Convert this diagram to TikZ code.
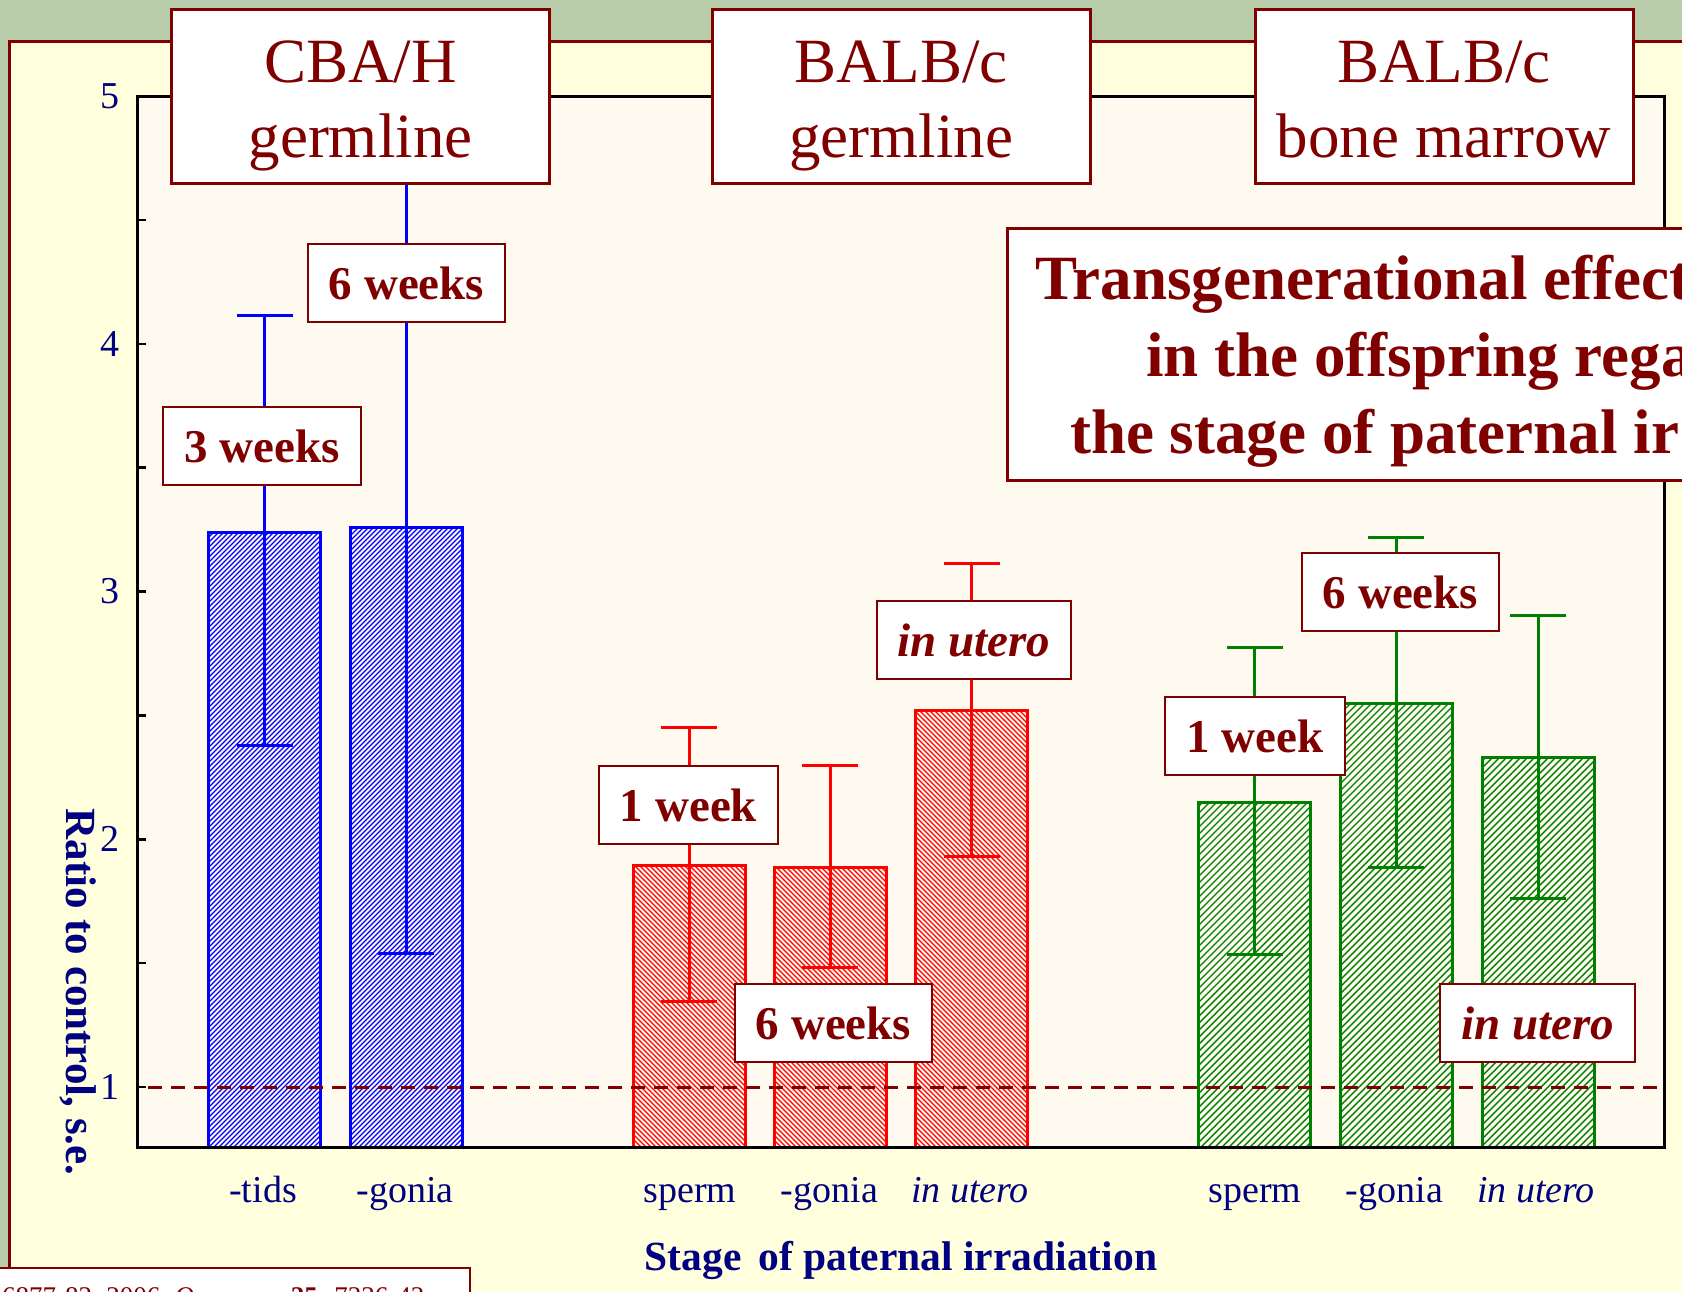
\documentclass[tikz,border=0pt]{standalone}
\usepackage{fontspec}
\setmainfont{Liberation Serif}
\usetikzlibrary{patterns}

\definecolor{maroonred}{RGB}{128,0,0}
\definecolor{axisnavy}{RGB}{0,0,128}
\definecolor{panelyellow}{RGB}{255,255,221}
\definecolor{plotcream}{RGB}{255,250,240}
\definecolor{slidegreen}{RGB}{184,204,170}
\definecolor{bargreen}{RGB}{0,128,0}

% hatchings of the three groups
\pgfdeclarepatternformonly{blue hatch}{\pgfqpoint{-1pt}{-1pt}}{\pgfqpoint{6pt}{6pt}}{\pgfqpoint{5pt}{5pt}}{%
  \pgfsetlinewidth{1.3pt}\pgfpathmoveto{\pgfqpoint{0pt}{0pt}}\pgfpathlineto{\pgfqpoint{5.1pt}{5.1pt}}\pgfusepath{stroke}}
\pgfdeclarepatternformonly{red hatch}{\pgfqpoint{-1pt}{-1pt}}{\pgfqpoint{6pt}{6pt}}{\pgfqpoint{5pt}{5pt}}{%
  \pgfsetlinewidth{1.3pt}\pgfpathmoveto{\pgfqpoint{0pt}{5pt}}\pgfpathlineto{\pgfqpoint{5.1pt}{-0.1pt}}\pgfusepath{stroke}}
\pgfdeclarepatternformonly{green hatch}{\pgfqpoint{-1pt}{-1pt}}{\pgfqpoint{8pt}{8pt}}{\pgfqpoint{7pt}{7pt}}{%
  \pgfsetlinewidth{1.4pt}\pgfpathmoveto{\pgfqpoint{0pt}{0pt}}\pgfpathlineto{\pgfqpoint{7.1pt}{7.1pt}}\pgfusepath{stroke}}

\begin{document}
\begin{tikzpicture}[x=1pt,y=-1pt,
	headbox/.style={draw=maroonred,line width=3pt,fill=white,minimum width=378pt,minimum height=174pt},
	headtext/.style={text=maroonred,font=\fontsize{63}{75}\selectfont,anchor=base,inner sep=0pt},
	titletext/.style={text=maroonred,font=\fontsize{63}{77}\selectfont\bfseries,anchor=base west,inner sep=0pt},
	tagbox/.style={draw=maroonred,line width=2pt,fill=white,text=maroonred,font=\fontsize{47}{56}\selectfont\bfseries,
		inner xsep=21pt,minimum height=78pt,text height=33pt,text depth=0pt},
	ticklabel/.style={text=axisnavy,font=\fontsize{38}{45}\selectfont,anchor=east,inner sep=0pt},
	stagelabel/.style={text=axisnavy,font=\fontsize{38}{45}\selectfont,anchor=base,inner sep=0pt},
	bar/.style={line width=3pt},
	errbar/.style={line width=3pt}]
	\clip (0,0) rectangle (1682,1291);
	\fill[slidegreen] (0,0) rectangle (1682,1291);
	\draw[maroonred,line width=3pt,fill=panelyellow] (9,41) rectangle (1700,1310);
	\fill[plotcream] (137,96) rectangle (1664,1147);

	% bars with error bars
	\foreach \cx/\bartop/\errhi/\errlo/\col/\pat in {
		264.5/532/315/745/blue/blue hatch,
		406/527/101/953/blue/blue hatch,
		689/865/727/1001/red/red hatch,
		830/867/765/967/red/red hatch,
		971.5/710/563/856/red/red hatch,
		1254.5/802/647/954/bargreen/green hatch,
		1396/703/537/867/bargreen/green hatch,
		1538/757/615/898/bargreen/green hatch}
	{
		\draw[bar,draw=\col,pattern=\pat,pattern color=\col] (\cx-56,\bartop) rectangle (\cx+56,1147);
		\draw[errbar,draw=\col] (\cx,\errhi) -- (\cx,\errlo)
			(\cx-28,\errhi) -- (\cx+28,\errhi) (\cx-28,\errlo) -- (\cx+28,\errlo);
	}
	\draw[maroonred,line width=3pt,dash pattern=on 14pt off 9pt] (148,1087) -- (1662,1087);

	% axes
	\draw[line width=3pt] (137,96) rectangle (1664,1147);
	\foreach \v in {1,1.5,...,5}
		\draw[line width=2.5pt] (137,{1087-(\v-1)*247.75}) -- (146,{1087-(\v-1)*247.75});
	\foreach \v in {1,...,5}
		\node[ticklabel] (tick\v) at (120,{1087-(\v-1)*247.75}) {\v};

	% stage tags
	\node[tagbox] (tagtidsB) at (262,446) {3 weeks};
	\node[tagbox] (taggoniaB) at (406.5,282.5) {6 weeks};
	\node[tagbox] (tagspermR) at (688.5,805) {1 week};
	\node[tagbox] (taggoniaR) at (833.5,1023) {6 weeks};
	\node[tagbox] (taguteroR) at (974,640) {\textit{in utero}};
	\node[tagbox] (tagspermG) at (1255,736) {1 week};
	\node[tagbox] (taggoniaG) at (1400.5,592) {6 weeks};
	\node[tagbox] (taguteroG) at (1537.5,1022.5) {\textit{in utero}};

	% strain headers
	\node[headbox] (hdcba) at (360.5,96) {};
	\node[headtext] (hdcbaA) at (360.5,82) {CBA/H};
	\node[headtext] (hdcbaB) at (360.5,157) {germline};
	\node[headbox] (hdbalb) at (901,96) {};
	\node[headtext] (hdbalbA) at (901,82) {BALB/c};
	\node[headtext] (hdbalbB) at (901,157) {germline};
	\node[headbox] (hdmarrow) at (1444,96) {};
	\node[headtext] (hdmarrowA) at (1444,82) {BALB/c};
	\node[headtext] (hdmarrowB) at (1444,157) {bone marrow};

	% title
	\draw[maroonred,line width=3pt,fill=white] (1007,228) rectangle (1700,480);
	\node[titletext] (titleA) at (1035,299) {Transgenerational effect};
	\node[titletext] (titleB) at (1146,376) {in the offspring rega};
	\node[titletext] (titleC) at (1070,453) {the stage of paternal ir};

	% reference
	\draw[maroonred,line width=2pt,fill=white] (-10,1268) rectangle (470,1320);
	\node[anchor=base west,inner sep=0pt,text=maroonred,font=\fontsize{27}{32}\selectfont] (cite) at (2,1305)
		{6877-82; 2006; \textit{Oncogene} \textbf{25}: 7336-42;};

	% axis labels
	\node[rotate=-90,text=axisnavy,font=\fontsize{43}{50}\selectfont\bfseries] (ylab) at (78,992) {Ratio to control, s.e.};
	\node[stagelabel] (xtids) at (263,1202) {-tids};
	\node[stagelabel] (xgoniaB) at (405,1202) {-gonia};
	\node[stagelabel] (xspermR) at (690,1202) {sperm};
	\node[stagelabel] (xgoniaR) at (829.5,1202) {-gonia};
	\node[stagelabel] (xuteroR) at (970,1202) {\textit{in utero}};
	\node[stagelabel] (xspermG) at (1255,1202) {sperm};
	\node[stagelabel] (xgoniaG) at (1394.5,1202) {-gonia};
	\node[stagelabel] (xuteroG) at (1536,1202) {\textit{in utero}};
	\node[stagelabel,font=\fontsize{41.5}{50}\selectfont\bfseries] (xtitle) at (901,1270) {Stage\hspace{0.15em} of paternal irradiation};
\end{tikzpicture}
\end{document}
